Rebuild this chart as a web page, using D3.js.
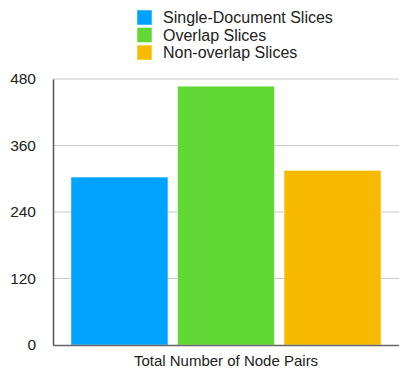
<!DOCTYPE html>
<html>
<head>
<meta charset="utf-8">
<script src="https://cdn.jsdelivr.net/npm/d3@7"></script>
<style>
  html, body { margin: 0; padding: 0; background: #fff; }
  text { font-family: "Liberation Sans", Arial, sans-serif; fill: #222; }
</style>
</head>
<body>
<svg id="chart" width="399" height="370"></svg>
<script>
// Node-pair counts per slice type
const categories = ["Total Number of Node Pairs"];
const seriesNames = ["Single-Document Slices", "Overlap Slices", "Non-overlap Slices"];
const seriesValues = [303, 467, 315];
const seriesColors = ["#00A2FF", "#61D836", "#F8BA00"];
const yTicks = [0, 120, 240, 360, 480];

const svg = d3.select("#chart");
const margin = { left: 53, right: 0, top: 79, bottom: 25 };
const W = 399, H = 370;
const plotBottom = 345;

const y = d3.scaleLinear().domain([0, 480]).range([plotBottom, margin.top]);
const x0 = d3.scaleBand().domain(categories).range([margin.left, W]).paddingInner(0).paddingOuter(0.058);
const x1 = d3.scaleBand().domain(seriesNames).range([0, x0.bandwidth()]).paddingInner(0.09).paddingOuter(0);

// horizontal gridlines
svg.append("g")
  .selectAll("line")
  .data(yTicks.filter(t => t > 0))
  .join("line")
  .attr("x1", margin.left).attr("x2", W)
  .attr("y1", d => y(d)).attr("y2", d => y(d))
  .attr("stroke", "#c8c8c8").attr("stroke-width", 1);

// bars
const group = svg.append("g")
  .selectAll("g")
  .data(categories)
  .join("g")
  .attr("transform", d => `translate(${x0(d)},0)`);

group.selectAll("rect")
  .data(() => seriesNames.map((s, i) => ({ s, v: seriesValues[i], c: seriesColors[i] })))
  .join("rect")
  .attr("x", d => x1(d.s))
  .attr("width", x1.bandwidth())
  .attr("y", d => y(d.v))
  .attr("height", d => plotBottom - y(d.v))
  .attr("fill", d => d.c)
  .attr("stroke", "rgba(255,255,255,0.45)")
  .attr("stroke-width", 1);

// y axis
const yAxis = d3.axisLeft(y).tickValues(yTicks).tickSize(0).tickPadding(17);
const gy = svg.append("g").attr("transform", `translate(${margin.left},0)`).call(yAxis);
gy.select(".domain").attr("stroke", "#555").attr("stroke-width", 1.5);
gy.selectAll("text").attr("font-size", 15.5).attr("fill", "#222")
  .style("font-family", '"Liberation Sans", Arial, sans-serif');

// x axis
const xAxis = d3.axisBottom(x0).tickSize(0).tickPadding(10);
const gx = svg.append("g").attr("transform", `translate(0,${plotBottom})`).call(xAxis);
gx.select(".domain").attr("stroke", "#666").attr("stroke-width", 1.5);
gx.selectAll("text").attr("font-size", 15).attr("fill", "#222")
  .style("font-family", '"Liberation Sans", Arial, sans-serif');

// legend
const legend = svg.append("g").attr("transform", "translate(137,10)");
const rows = legend.selectAll("g")
  .data(seriesNames)
  .join("g")
  .attr("transform", (d, i) => `translate(0,${i * 17.5})`);
rows.append("rect")
  .attr("width", 15).attr("height", 15)
  .attr("fill", (d, i) => seriesColors[i])
  .attr("stroke", "rgba(255,255,255,0.5)");
rows.append("text")
  .attr("x", 26).attr("y", 13)
  .attr("font-size", 16)
  .text(d => d);
</script>
</body>
</html>
